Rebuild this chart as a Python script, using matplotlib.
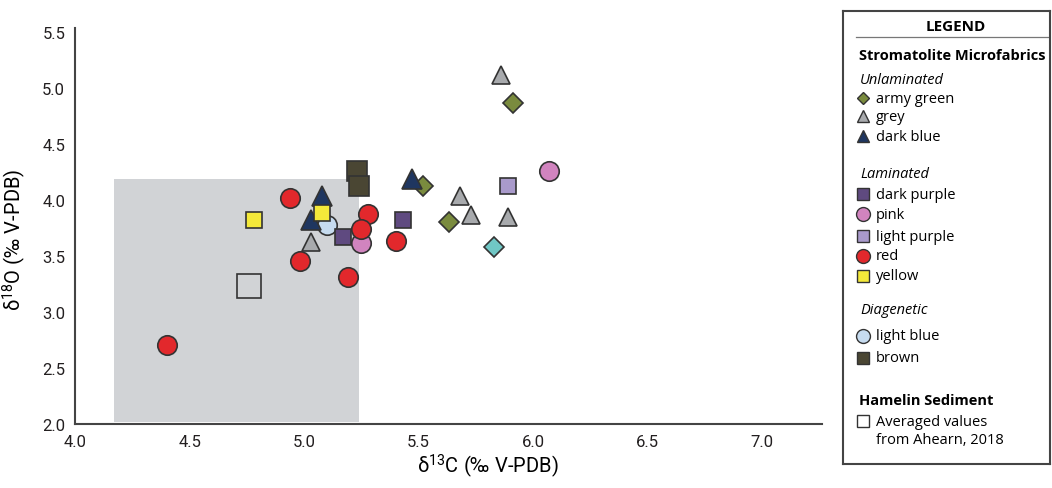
import matplotlib.pyplot as plt
from matplotlib.patches import Rectangle

# data (delta13C, delta18O)
army_green_x = [5.52, 5.63, 5.91]
army_green_y = [4.13, 3.81, 4.87]
grey_x = [5.86, 5.68, 5.73, 5.89, 5.03]
grey_y = [5.12, 4.04, 3.87, 3.85, 3.63]
dark_blue_x = [5.08, 5.03, 5.47]
dark_blue_y = [4.04, 3.82, 4.19]
dark_purple_x = [5.17, 5.43]
dark_purple_y = [3.67, 3.82]
pink_x = [5.25, 6.07]
pink_y = [3.62, 4.26]
light_purple_x = [5.89]
light_purple_y = [4.13]
red_x = [4.40, 4.94, 4.98, 5.19, 5.28, 5.25, 5.40]
red_y = [2.71, 4.02, 3.46, 3.31, 3.88, 3.74, 3.64]
yellow_x = [4.78, 5.08]
yellow_y = [3.82, 3.89]
light_blue_x = [5.10]
light_blue_y = [3.78]
brown_x = [5.23, 5.24]
brown_y = [4.26, 4.13]
cyan_x = [5.83]
cyan_y = [3.58]
hamelin_x = [4.76]
hamelin_y = [3.23]

shade_x = [4.17, 5.24]
shade_y = [2.02, 4.19]

xticks = [4.0, 4.5, 5.0, 5.5, 6.0, 6.5, 7.0]
yticks = [2.0, 2.5, 3.0, 3.5, 4.0, 4.5, 5.0, 5.5]

EC = '#333333'
colors = {
    'army green': '#7a8b3e', 'grey': '#a8aaad', 'dark blue': '#1f3660',
    'dark purple': '#5f4a80', 'pink': '#d184bf', 'light purple': '#a99acb',
    'red': '#e2282c', 'yellow': '#f4e93a', 'light blue': '#c6dbef',
    'brown': '#4a4633', 'cyan': '#70c7c5',
}
tick_font = ['Roboto', 'DejaVu Sans']
leg_font = ['Open Sans', 'DejaVu Sans']

fig = plt.figure(figsize=(10.52, 4.89), dpi=100)
ax = fig.add_axes([75 / 1052, 64 / 489, (822 - 75) / 1052, (425 - 29) / 489])

ax.add_patch(Rectangle((shade_x[0], shade_y[0]), shade_x[1] - shade_x[0],
                       shade_y[1] - shade_y[0], facecolor='#d1d3d6',
                       edgecolor='none', zorder=0))

def pts(x, y, marker, size, color, z, face=None):
    ax.plot(x, y, ls='none', marker=marker, ms=size,
            mfc=face if face is not None else color, mec=EC, mew=1.2, zorder=z)

pts(grey_x, grey_y, '^', 13, colors['grey'], 3)
pts(light_blue_x, light_blue_y, 'o', 14, colors['light blue'], 3)
pts(pink_x, pink_y, 'o', 14, colors['pink'], 3)
pts(red_x, red_y, 'o', 14, colors['red'], 4)
pts(cyan_x, cyan_y, 'D', 10, colors['cyan'], 3)
pts(dark_purple_x, dark_purple_y, 's', 12, colors['dark purple'], 5)
pts(light_purple_x, light_purple_y, 's', 12, colors['light purple'], 5)
pts(yellow_x, yellow_y, 's', 12, colors['yellow'], 6)
pts(dark_blue_x, dark_blue_y, '^', 14, colors['dark blue'], 5)
pts(army_green_x, army_green_y, 'D', 10, colors['army green'], 4)
pts(brown_x, brown_y, 's', 14, colors['brown'], 6)
pts(hamelin_x, hamelin_y, 's', 17, 'none', 6, face='none')

ax.set_xlim(4.0, 7.26)
ax.set_ylim(2.0, 5.54)
ax.set_xticks(xticks)
ax.set_yticks(yticks)
ax.set_xticklabels([f'{t:.1f}' for t in xticks], family=tick_font, fontsize=12)
ax.set_yticklabels([f'{t:.1f}' for t in yticks], family=tick_font, fontsize=12)
ax.tick_params(length=0, pad=7, colors='#231f20')
for s in ['top', 'right']:
    ax.spines[s].set_visible(False)
for s in ['left', 'bottom']:
    ax.spines[s].set_color('#444444')
    ax.spines[s].set_linewidth(1.5)
ax.set_xlabel(r'δ$^{\mathregular{13}}$C (‰ V-PDB)', family=tick_font,
              fontsize=14.5)
ax.set_ylabel(r'δ$^{\mathregular{18}}$O (‰ V-PDB)', family=tick_font,
              fontsize=14.5)
ax.xaxis.set_label_coords(0.553, -0.07)
ax.yaxis.set_label_coords(-0.063, 0.467)

# legend panel drawn in pixel coordinates
lg = fig.add_axes([843 / 1052, 24 / 489, (1050 - 843) / 1052, (465 - 12) / 489])
lg.set_xlim(843, 1050)
lg.set_ylim(465, 12)
lg.set_xticks([])
lg.set_yticks([])
for s in lg.spines.values():
    s.set_color('#444444')
    s.set_linewidth(1.5)

lg.text(956, 27, 'LEGEND', ha='center', va='center', fontsize=11,
        weight='bold', family=leg_font)
lg.plot([856, 1049], [38, 38], color='#777777', lw=0.9)
lg.text(859, 56, 'Stromatolite Microfabrics', va='center', fontsize=10.5,
        weight='bold', family=leg_font)

entries = [
    ('Unlaminated', 80, None, None, None),
    ('army green', 99, 'D', 6.5, colors['army green']),
    ('grey', 117, '^', 8.5, colors['grey']),
    ('dark blue', 137, '^', 8.5, colors['dark blue']),
    ('Laminated', 174, None, None, None),
    ('dark purple', 195, 's', 8, colors['dark purple']),
    ('pink', 215, 'o', 10, colors['pink']),
    ('light purple', 237, 's', 8, colors['light purple']),
    ('red', 257, 'o', 10, colors['red']),
    ('yellow', 277, 's', 8, colors['yellow']),
    ('Diagenetic', 311, None, None, None),
    ('light blue', 337, 'o', 10, colors['light blue']),
    ('brown', 359, 's', 8.5, colors['brown']),
]
for label, y, m, ms, c in entries:
    if m is None:
        lg.text(860, y, label, va='center', fontsize=10.5, style='italic',
                family=leg_font)
    else:
        lg.plot([863], [y], marker=m, ms=ms, mfc=c, mec=EC, mew=1.0, ls='none')
        lg.text(876, y, label, va='center', fontsize=10.5, family=leg_font)

lg.text(859, 401, 'Hamelin Sediment', va='center', fontsize=10.5,
        weight='bold', family=leg_font)
lg.plot([863], [422], marker='s', ms=9, mfc='white', mec=EC, mew=1.0, ls='none')
lg.text(876, 422, 'Averaged values', va='center', fontsize=10.5, family=leg_font)
lg.text(876, 441, 'from Ahearn, 2018', va='center', fontsize=10.5, family=leg_font)

fig.savefig('out.png', dpi=100)
